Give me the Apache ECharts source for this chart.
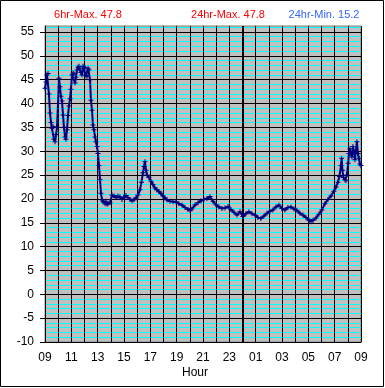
<!DOCTYPE html>
<html>
<head>
<meta charset="utf-8">
<script src="https://cdn.jsdelivr.net/npm/echarts@6/dist/echarts.min.js"></script>
<style>
html,body{margin:0;padding:0;background:#fff;}
#c{width:385px;height:388px;}
</style>
</head>
<body>
<div id="c"></div>
<script>
// hours since 09:00
var hoursSince9 = [0.00,0.08,0.15,0.23,0.30,0.38,0.46,0.53,0.61,0.68,0.76,0.84,0.91,0.99,1.06,1.14,1.21,1.29,1.37,1.44,1.52,1.59,1.67,1.75,1.82,1.90,1.97,2.05,2.13,2.20,2.28,2.35,2.43,2.51,2.58,2.66,2.73,2.81,2.89,2.96,3.04,3.11,3.19,3.27,3.34,3.42,3.49,3.57,3.64,3.72,3.80,3.87,3.95,4.02,4.10,4.18,4.25,4.33,4.40,4.48,4.56,4.63,4.71,4.78,4.94,5.09,5.24,5.39,5.54,5.69,5.85,6.00,6.15,6.30,6.45,6.61,6.76,6.91,7.06,7.21,7.33,7.44,7.52,7.59,7.67,7.75,7.90,8.05,8.20,8.35,8.50,8.66,8.81,8.96,9.11,9.26,9.49,9.72,9.95,10.17,10.40,10.63,10.86,11.01,11.16,11.39,11.62,11.85,12.07,12.30,12.53,12.76,12.98,13.21,13.44,13.67,13.90,14.12,14.35,14.58,14.81,15.03,15.26,15.49,15.72,15.95,16.17,16.40,16.63,16.86,17.08,17.31,17.54,17.77,17.99,18.22,18.45,18.68,18.91,19.13,19.36,19.59,19.82,20.05,20.20,20.35,20.58,20.80,21.03,21.26,21.49,21.72,21.94,22.10,22.25,22.36,22.48,22.53,22.59,22.67,22.78,22.86,22.93,23.03,23.08,23.16,23.23,23.31,23.39,23.46,23.54,23.61,23.69,23.77,23.84,23.92,24.00];
var temperature = [43.2,44.5,46.0,46.3,42.0,38.0,36.0,34.8,35.2,32.5,32.0,33.5,35.0,40.0,45.3,43.5,41.5,40.5,37.6,35.0,33.0,32.5,34.5,37.5,39.5,41.0,43.0,46.0,46.4,46.2,44.3,45.5,47.0,47.6,47.8,47.3,46.5,46.0,47.8,47.6,47.5,45.8,45.7,47.4,47.0,45.0,40.7,38.6,35.5,34.5,33.0,32.0,31.0,29.5,27.0,24.0,21.2,19.8,19.5,19.3,19.0,19.5,18.9,19.0,19.2,20.8,20.6,20.3,20.6,20.4,19.9,20.4,20.7,20.3,19.9,19.6,19.8,20.2,20.8,21.9,23.5,25.5,26.8,27.8,26.0,25.0,24.5,23.7,23.0,22.3,21.9,21.5,21.2,20.6,20.2,19.8,19.5,19.4,19.4,19.0,18.7,18.2,17.8,17.6,17.9,18.7,19.2,19.6,19.9,20.1,20.5,19.5,18.8,18.3,18.0,18.1,18.4,17.8,17.2,16.6,17.3,16.3,16.9,17.3,16.9,16.6,16.1,15.9,16.4,17.0,17.4,17.7,18.3,18.7,18.0,17.7,18.2,18.3,17.9,17.6,17.0,16.6,16.1,15.5,15.2,15.5,16.0,16.8,17.7,19.0,19.9,20.6,21.6,22.5,23.5,24.7,27.0,28.5,26.0,24.5,24.0,23.8,25.0,27.5,29.5,30.5,29.5,28.8,31.0,30.0,28.2,30.0,32.0,29.5,28.5,27.3,27.0];
var xTickHours = [0,2,4,6,8,10,12,14,16,18,20,22,24];
var xTickLabels = ['09','11','13','15','17','19','21','23','01','03','05','07','09'];
var yMajorTicks = [-10,-5,0,5,10,15,20,25,30,35,40,45,50,55];
var headerTexts = ['6hr-Max. 47.8','24hr-Max. 47.8','24hr-Min. 15.2'];
var midnightHour = [15];

var yMinorTicks = [];
for (var v = -10; v <= 56; v++) { if (v % 5 !== 0) yMinorTicks.push(v); }
var seriesData = hoursSince9.map(function (h, i) { return [h, temperature[i]]; });

var FONT = "'Liberation Sans', Arial, sans-serif";
var chart = echarts.init(document.getElementById('c'), null, {renderer: 'canvas'});
var G = {left: 45, top: 26, width: 316, height: 316};

chart.setOption({
  animation: false,
  backgroundColor: '#ffffff',
  grid: {left: G.left, top: G.top, width: G.width, height: G.height, show: true,
         backgroundColor: '#c0c0c0', borderColor: '#808080', borderWidth: 1},
  xAxis: [
    {type: 'value', min: 0, max: 24, interval: 1, z: 1,
     axisLine: {show: true, onZero: false, lineStyle: {color: '#000', width: 1}},
     axisTick: {show: false},
     axisLabel: {customValues: xTickHours, margin: 10, color: '#000', fontSize: 12,
                 fontFamily: "'Liberation Sans Narrow', " + FONT,
                 formatter: function (val) { var i = xTickHours.indexOf(val); return i >= 0 ? xTickLabels[i] : ''; }},
     splitLine: {show: true, lineStyle: {color: '#000', width: 1}}},
    {type: 'value', min: 0, max: 24, position: 'bottom', z: 1,
     axisLine: {show: false}, axisLabel: {show: false},
     axisTick: {show: true, customValues: midnightHour, length: 11, lineStyle: {color: '#000', width: 2}},
     splitLine: {show: true, lineStyle: {color: '#000', width: 2}}},
    {type: 'value', min: 0, max: 24, position: 'top', z: 1,
     axisLine: {show: false}, axisLabel: {show: false},
     axisTick: {show: true, customValues: midnightHour, length: 2, lineStyle: {color: '#000', width: 2}},
     splitLine: {show: false}}
  ],
  yAxis: [
    {type: 'value', min: -10, max: 56.25, interval: 5, position: 'left', z: 1,
     axisLine: {show: true, onZero: false, lineStyle: {color: '#000', width: 1}},
     axisTick: {show: true, length: 5, customValues: yMajorTicks, lineStyle: {color: '#000', width: 1}},
     axisLabel: {customValues: yMajorTicks, margin: 11, color: '#000', fontSize: 12, fontFamily: FONT},
     splitLine: {show: true, lineStyle: {color: '#000', width: 1}}},
    {type: 'value', min: -10, max: 56.25, interval: 1, position: 'left', z: 0,
     axisLine: {show: false}, axisLabel: {show: false},
     axisTick: {show: false, customValues: yMinorTicks},
     splitLine: {show: true, lineStyle: {color: '#00ffff', width: 1}}}
  ],
  series: [{
    type: 'line', xAxisIndex: 0, yAxisIndex: 0, data: seriesData, z: 3,
    showSymbol: true, showAllSymbol: true,
    symbol: 'path://M0,2H5V3H0Z M2,0H3V5H2Z', symbolSize: 5,
    itemStyle: {color: '#000080'},
    lineStyle: {color: '#000080', width: 2},
    emphasis: {disabled: true}, silent: true
  }],
  graphic: [
    {type: 'rect', z: 100, silent: true, shape: {x: 0.5, y: 0.5, width: 383, height: 386},
     style: {fill: null, stroke: '#000', lineWidth: 1}},
    {type: 'text', x: 88, y: 15, silent: true,
     style: {text: headerTexts[0], fill: '#ff0000', font: '11px ' + FONT, textAlign: 'center', textVerticalAlign: 'middle'}},
    {type: 'text', x: 228, y: 15, silent: true,
     style: {text: headerTexts[1], fill: '#ff0000', font: '11px ' + FONT, textAlign: 'center', textVerticalAlign: 'middle'}},
    {type: 'text', x: 324, y: 15, silent: true,
     style: {text: headerTexts[2], fill: '#3366ff', font: '11px ' + FONT, textAlign: 'center', textVerticalAlign: 'middle'}},
    {type: 'text', x: 195, y: 373, silent: true,
     style: {text: 'Hour', fill: '#000', font: '12px ' + FONT, textAlign: 'center', textVerticalAlign: 'middle'}}
  ]
});
</script>
</body>
</html>
